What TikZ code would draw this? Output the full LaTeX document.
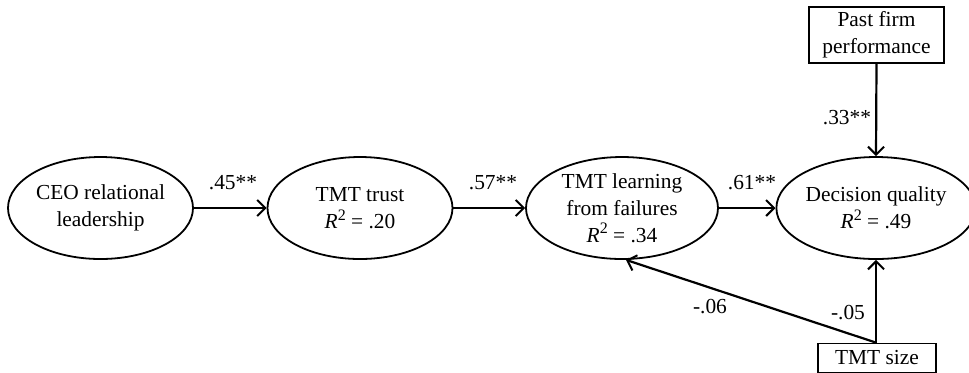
\documentclass[tikz,border=0pt]{standalone}
\usepackage{fontspec}
\setmainfont{Liberation Serif}
\usetikzlibrary{arrows.meta,shapes.geometric}
\newcommand{\Rsqd}{\textit{R}\raisebox{0.85ex}{\fontsize{8}{8}\selectfont 2}}
\begin{document}
\begin{tikzpicture}[x=0.5pt,y=-0.5pt,
  font=\fontsize{10.7}{13.5}\selectfont,
  latent/.style={ellipse, draw, line width=0.9pt, minimum width=92.5pt, minimum height=51pt, inner sep=0pt, align=center},
  obs/.style={rectangle, draw, line width=0.9pt, align=center, inner sep=0pt},
  pathline/.style={-{Straight Barb[length=4pt,width=8pt,line width=1pt]}, line width=1.1pt},
  lbl/.style={inner sep=0pt}]
\useasboundingbox (0,0) rectangle (969,372);
\node[latent] (ceo) at (100.5,208) {CEO relational\\leadership};
\node[latent] (trust) at (360,208) {TMT trust\\\Rsqd{} = .20};
\node[latent, minimum width=96pt] (learn) at (622,208) {TMT learning\\from failures\\\Rsqd{} = .34};
\node[latent] (dq) at (876,208) {Decision quality\\\Rsqd{} = .49};
\node[obs, minimum width=67.5pt, minimum height=28pt] (past) at (876.5,35) {Past firm\\performance};
\node[obs, minimum width=59pt, minimum height=14.5pt] (size) at (877,358) {TMT size};
\draw[pathline] (ceo) -- (trust);
\draw[pathline] (trust) -- (learn);
\draw[pathline] (learn) -- (dq);
\draw[pathline] (past.south) -- (dq.north);
\draw[pathline] (size.north -| dq.south) -- (dq.south);
\draw[pathline] (size.north -| dq.south) -- ([xshift=2pt]learn.south);
\node[lbl] (l1) at (233,183) {.45**};
\node[lbl] (l2) at (493,183) {.57**};
\node[lbl] (l3) at (752,183) {.61**};
\node[lbl] (l4) at (847,118) {.33**};
\node[lbl] (l5) at (710,307) {-.06};
\node[lbl] (l6) at (848,313) {-.05};
\end{tikzpicture}
\end{document}
